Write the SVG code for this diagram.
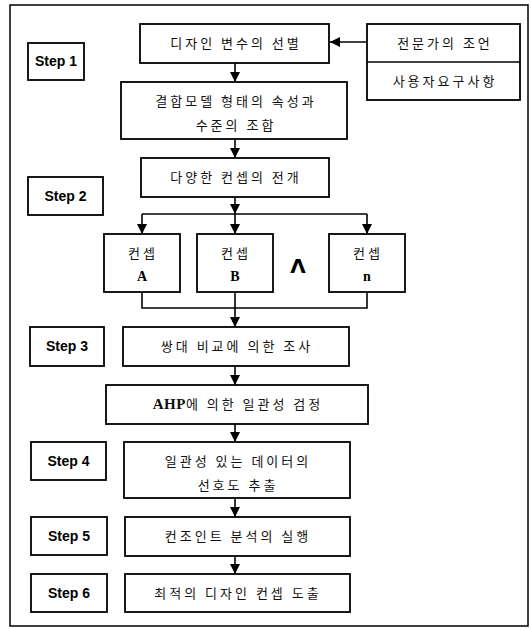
<svg xmlns="http://www.w3.org/2000/svg" width="531" height="630" viewBox="0 0 531 630">
<defs>
<marker id="ah" viewBox="0 0 10 10" refX="10" refY="5" markerWidth="10" markerHeight="10" markerUnits="userSpaceOnUse" orient="auto"><path d="M0,0 L10,5 L0,10 z" fill="#000"/></marker>
<style>
.box{fill:#fff;stroke:#000;stroke-width:1.8}
.ln{fill:none;stroke:#000;stroke-width:1.6}
.ko{font-family:"Noto Sans CJK KR","Noto Sans",sans-serif;font-size:13px;letter-spacing:3px;fill:#111;text-anchor:middle}
.st{font-family:"Liberation Sans",Arial,sans-serif;font-weight:bold;font-size:14px;fill:#000;text-anchor:middle}
.lt{font-family:"Liberation Serif","Times New Roman",serif;font-weight:bold;font-size:14px;fill:#000;text-anchor:middle}
.en{font-family:"Liberation Serif","Times New Roman",serif;font-weight:bold;font-size:15px;letter-spacing:0.5px}
</style>
</defs>
<rect x="10" y="5" width="518" height="621" fill="#fff" stroke="#000" stroke-width="1.5"/>
<g id="connectors">
<path class="ln" d="M367,42 L330,42" marker-end="url(#ah)"/>
<path class="ln" d="M235,63 L235,82" marker-end="url(#ah)"/>
<path class="ln" d="M235,139 L235,158" marker-end="url(#ah)"/>
<path class="ln" d="M235,197 L235,214" marker-end="url(#ah)"/>
<path class="ln" d="M142,214 L367,214"/>
<path class="ln" d="M142,214 L142,234" marker-end="url(#ah)"/>
<path class="ln" d="M235,214 L235,234" marker-end="url(#ah)"/>
<path class="ln" d="M367,214 L367,234" marker-end="url(#ah)"/>
<path class="ln" d="M142,292 L142,308 L367,308 L367,292"/>
<path class="ln" d="M235,292 L235,327" marker-end="url(#ah)"/>
<path class="ln" d="M235,366 L235,385" marker-end="url(#ah)"/>
<path class="ln" d="M235,424 L235,442" marker-end="url(#ah)"/>
<path class="ln" d="M235,498 L235,517" marker-end="url(#ah)"/>
<path class="ln" d="M235,556 L235,574" marker-end="url(#ah)"/>
</g>
<g id="step1"><rect class="box" x="28" y="43" width="56" height="37"/><text class="st" x="56" y="66">Step 1</text></g>
<g id="design-vars"><rect class="box" x="140" y="24" width="189" height="39"/><text class="ko" x="236" y="48">디자인 변수의 선별</text></g>
<g id="inputs"><rect class="box" x="367" y="24" width="153" height="76"/><line class="ln" x1="367" y1="62" x2="520" y2="62"/><text class="ko" x="445" y="48">전문가의 조언</text><text class="ko" x="445" y="86">사용자요구사항</text></g>
<g id="combine"><rect class="box" x="121" y="82" width="226" height="57"/><text class="ko" x="236" y="106">결합모델 형태의 속성과</text><text class="ko" x="236" y="130">수준의 조합</text></g>
<g id="step2"><rect class="box" x="28" y="177" width="75" height="38"/><text class="st" x="65.5" y="201">Step 2</text></g>
<g id="concepts"><rect class="box" x="141" y="158" width="188" height="39"/><text class="ko" x="236" y="182">다양한 컨셉의 전개</text></g>
<g id="conceptA"><rect class="box" x="104" y="234" width="76" height="58"/><text class="ko" x="143" y="258">컨셉</text><text class="lt" x="142" y="281">A</text></g>
<g id="conceptB"><rect class="box" x="197" y="234" width="76" height="58"/><text class="ko" x="236" y="258">컨셉</text><text class="lt" x="235" y="281">B</text></g>
<g id="ellipsis"><text x="298" y="273" font-family="DejaVu Sans,sans-serif" font-weight="bold" font-size="20" text-anchor="middle" fill="#000">Λ</text></g>
<g id="conceptN"><rect class="box" x="329" y="234" width="76" height="58"/><text class="ko" x="368" y="258">컨셉</text><text class="lt" x="367" y="281">n</text></g>
<g id="step3"><rect class="box" x="30" y="327" width="74" height="39"/><text class="st" x="67" y="351">Step 3</text></g>
<g id="pairwise"><rect class="box" x="123" y="327" width="226" height="39"/><text class="ko" x="237" y="351">쌍대 비교에 의한 조사</text></g>
<g id="ahp"><rect class="box" x="106" y="385" width="262" height="39"/><text class="ko" x="238" y="409"><tspan class="en">AHP</tspan>에 의한 일관성 검정</text></g>
<g id="step4"><rect class="box" x="31" y="442" width="75" height="38"/><text class="st" x="68.5" y="466">Step 4</text></g>
<g id="preference"><rect class="box" x="124" y="442" width="226" height="56"/><text class="ko" x="238" y="466">일관성 있는 데이터의</text><text class="ko" x="238" y="490">선호도 추출</text></g>
<g id="step5"><rect class="box" x="31" y="517" width="76" height="38"/><text class="st" x="69" y="541">Step 5</text></g>
<g id="conjoint"><rect class="box" x="125" y="517" width="225" height="39"/><text class="ko" x="238" y="541">컨조인트 분석의 실행</text></g>
<g id="step6"><rect class="box" x="31" y="574" width="76" height="38"/><text class="st" x="69" y="598">Step 6</text></g>
<g id="optimal"><rect class="box" x="125" y="574" width="225" height="38"/><text class="ko" x="238" y="598">최적의 디자인 컨셉 도출</text></g>
</svg>
